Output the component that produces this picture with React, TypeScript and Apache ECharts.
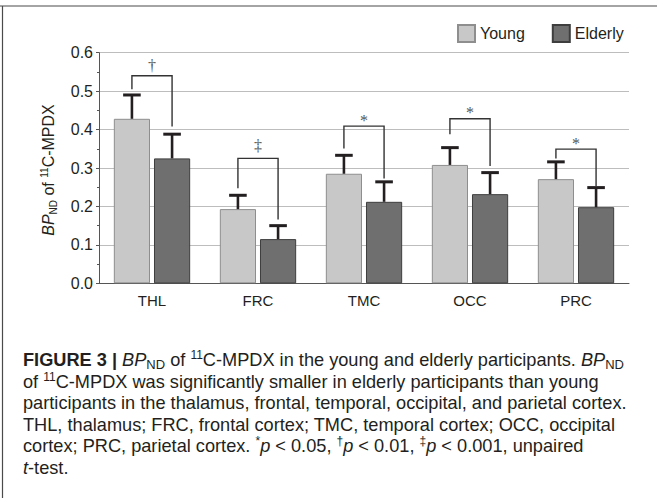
import React, { useEffect, useRef } from 'react';
import * as echarts from 'echarts';

const categories = ['THL', 'FRC', 'TMC', 'OCC', 'PRC'];
const seriesNames = ['Young', 'Elderly'];
const youngMean = [0.428, 0.193, 0.285, 0.308, 0.271];
const youngSD = [0.062, 0.036, 0.048, 0.045, 0.045];
const elderlyMean = [0.325, 0.115, 0.212, 0.232, 0.198];
const elderlySD = [0.063, 0.035, 0.052, 0.056, 0.051];
const bracketTop = [0.540, 0.325, 0.409, 0.428, 0.349];
const bracketLeftEnd = [0.505, 0.247, 0.351, 0.388, 0.325];
const bracketRightEnd = [0.408, 0.166, 0.273, 0.305, 0.253];
const bracketMarks = ['†', '‡', '*', '*', '*'];
const yMin = 0;
const yMax = 0.6;
const yInterval = 0.1;

const captionLines = [
  '{b|FIGURE 3 | }{i|BP}{sub|ND}{n| of }{sup|11}{n|C-MPDX in the young and elderly participants. }{i|BP}{sub|ND}',
  '{n|of }{sup|11}{n|C-MPDX was significantly smaller in elderly participants than young}',
  '{n|participants in the thalamus, frontal, temporal, occipital, and parietal cortex.}',
  '{n|THL, thalamus; FRC, frontal cortex; TMC, temporal cortex; OCC, occipital}',
  '{n|cortex; PRC, parietal cortex. }{sup|*}{i|p}{n| < 0.05, }{sup|†}{i|p}{n| < 0.01, }{sup|‡}{i|p}{n| < 0.001, unpaired}',
  '{i|t}{n|-test.}',
];

const SANS = '"Liberation Sans", Arial, Helvetica, sans-serif';
const SERIF = '"Liberation Serif", "Times New Roman", serif';
const CAT_GAP = 0.28;
const BAR_GAP = 0.11;
const YOUNG_COLOR = '#c8c8c8';
const YOUNG_BORDER = '#8e8e8e';
const ELDER_COLOR = '#6f6f6f';
const ELDER_BORDER = '#3e3e3e';
const ERR_COLOR = '#231f20';
const MARK_COLOR = '#555555';
const CAP_FONT = 18.2;

function barX(api: any, i: number, side: number) {
  const c = api.coord([i, 0]);
  const band = api.size([1, 0])[0];
  const bw = (band * (1 - CAT_GAP)) / (2 + BAR_GAP);
  return c[0] + (side * bw * (1 + BAR_GAP)) / 2;
}

function errorSeries(name: string, means: number[], sds: number[], side: number) {
  return {
    type: 'custom',
    name: name + ' SD',
    z: 5,
    silent: true,
    itemStyle: { color: ERR_COLOR },
    encode: { x: 0, y: [1, 2] },
    data: categories.map((_, i) => [i, means[i], means[i] + sds[i]]),
    renderItem: (params: any, api: any) => {
      const i = api.value(0);
      const x = barX(api, i, side);
      const y1 = api.coord([i, api.value(1)])[1];
      const y2 = api.coord([i, api.value(2)])[1];
      return {
        type: 'group',
        children: [
          { type: 'line', shape: { x1: x, y1: y1, x2: x, y2: y2 }, style: { stroke: ERR_COLOR, lineWidth: 2.6 } },
          { type: 'line', shape: { x1: x - 8.8, y1: y2, x2: x + 8.8, y2: y2 }, style: { stroke: ERR_COLOR, lineWidth: 3 } },
        ],
      };
    },
  };
}

const markOffset: Record<string, number> = { '*': 6, '†': 10, '‡': 13 };

export default function App() {
  const ref = useRef<HTMLDivElement>(null);
  useEffect(() => {
    document.body.style.margin = '0';
    if (!ref.current) return;
    const chart = echarts.init(ref.current, null, { renderer: 'svg' });
    const richBase = {
      n: { fontFamily: SANS, fontSize: CAP_FONT, fill: '#231f20', lineHeight: 22 },
      b: { fontFamily: SANS, fontSize: CAP_FONT, fontWeight: 'bold', fill: '#231f20', lineHeight: 22 },
      i: { fontFamily: SANS, fontSize: CAP_FONT, fontStyle: 'italic', fill: '#231f20', lineHeight: 22 },
      sub: { fontFamily: SANS, fontSize: 13, fill: '#231f20', verticalAlign: 'bottom', padding: [0, 0, 0, 0] },
      sup: { fontFamily: SANS, fontSize: 12, fill: '#231f20', verticalAlign: 'top', padding: [0, 0, 0, 0] },
    };
    const captionGraphics = captionLines.map((line, k) => ({
      type: 'text',
      x: 23,
      y: 360 + k * 21.5,
      style: { text: line, align: 'left', verticalAlign: 'middle', rich: richBase },
    }));
    const option: any = {
      animation: false,
      backgroundColor: '#ffffff',
      grid: { left: 99, right: 28, top: 52.7, bottom: 214.7 },
      legend: {
        data: seriesNames,
        left: 457,
        top: 24,
        padding: 0,
        itemWidth: 17,
        itemHeight: 17,
        itemGap: 27,
        icon: 'rect',
        textStyle: { fontFamily: SANS, fontSize: 16, color: '#231f20' },
      },
      xAxis: {
        type: 'category',
        data: categories,
        axisTick: { show: false },
        axisLine: { show: true, lineStyle: { color: '#555', width: 1 } },
        axisLabel: { fontFamily: SANS, fontSize: 15, color: '#231f20', margin: 10 },
      },
      yAxis: {
        type: 'value',
        min: yMin,
        max: yMax,
        interval: yInterval,
        axisLine: { show: true, lineStyle: { color: '#555', width: 1 } },
        axisTick: { show: true, length: 3, lineStyle: { color: '#555' } },
        minorTick: { show: true, splitNumber: 2, length: 2, lineStyle: { color: '#555' } },
        splitLine: { show: true, lineStyle: { color: '#bdbdbd', width: 1 } },
        axisLabel: {
          fontFamily: SANS,
          fontSize: 16,
          color: '#231f20',
          margin: 6,
          formatter: (v: number) => v.toFixed(1),
        },
      },
      series: [
        {
          type: 'bar',
          name: seriesNames[0],
          data: youngMean,
          barCategoryGap: CAT_GAP * 100 + '%',
          barGap: BAR_GAP * 100 + '%',
          itemStyle: { color: YOUNG_COLOR, borderColor: YOUNG_BORDER, borderWidth: 1 },
        },
        {
          type: 'bar',
          name: seriesNames[1],
          data: elderlyMean,
          barCategoryGap: CAT_GAP * 100 + '%',
          barGap: BAR_GAP * 100 + '%',
          itemStyle: { color: ELDER_COLOR, borderColor: ELDER_BORDER, borderWidth: 1 },
        },
        errorSeries(seriesNames[0], youngMean, youngSD, -1),
        errorSeries(seriesNames[1], elderlyMean, elderlySD, 1),
        {
          type: 'custom',
          name: 'brackets',
          z: 6,
          silent: true,
          itemStyle: { color: MARK_COLOR },
          encode: { x: 0, y: [1, 2, 3] },
          data: categories.map((_, i) => [i, bracketTop[i], bracketLeftEnd[i], bracketRightEnd[i]]),
          renderItem: (params: any, api: any) => {
            const i = api.value(0);
            const xl = barX(api, i, -1);
            const xr = barX(api, i, 1);
            const yt = api.coord([i, api.value(1)])[1];
            const yl = api.coord([i, api.value(2)])[1];
            const yr = api.coord([i, api.value(3)])[1];
            const mark = bracketMarks[params.dataIndex];
            return {
              type: 'group',
              children: [
                {
                  type: 'polyline',
                  shape: { points: [[xl, yl], [xl, yt], [xr, yt], [xr, yr]] },
                  style: { stroke: '#333', lineWidth: 1.4, fill: 'none' },
                },
                {
                  type: 'text',
                  x: (xl + xr) / 2,
                  y: yt - (markOffset[mark] || 8),
                  style: {
                    text: mark,
                    align: 'center',
                    verticalAlign: 'middle',
                    fontFamily: SERIF,
                    fontSize: 16,
                    fill: MARK_COLOR,
                  },
                },
              ],
            };
          },
        },
      ],
      graphic: [
        { type: 'line', shape: { x1: 0, y1: 6, x2: 657, y2: 6 }, style: { stroke: '#4a4a4a', lineWidth: 1.2 } },
        { type: 'line', shape: { x1: 2.5, y1: 6, x2: 2.5, y2: 498 }, style: { stroke: '#4a4a4a', lineWidth: 1.2 } },
        {
          type: 'text',
          x: 48.5,
          y: 170,
          rotation: Math.PI / 2,
          style: {
            text: '{i|BP}{sub|ND}{n| of }{sup|11}{n|C-MPDX}',
            align: 'center',
            verticalAlign: 'middle',
            rich: {
              n: { fontFamily: SANS, fontSize: 16, fill: '#231f20', lineHeight: 20 },
              i: { fontFamily: SANS, fontSize: 16, fontStyle: 'italic', fill: '#231f20', lineHeight: 20 },
              sub: { fontFamily: SANS, fontSize: 10, fill: '#231f20', verticalAlign: 'bottom' },
              sup: { fontFamily: SANS, fontSize: 10, fill: '#231f20', verticalAlign: 'top', padding: [1, 0, 0, 0] },
            },
          },
        },
        ...captionGraphics,
      ],
    };
    chart.setOption(option);
    return () => chart.dispose();
  }, []);
  return <div ref={ref} style={{ width: 657, height: 498 }} />;
}
